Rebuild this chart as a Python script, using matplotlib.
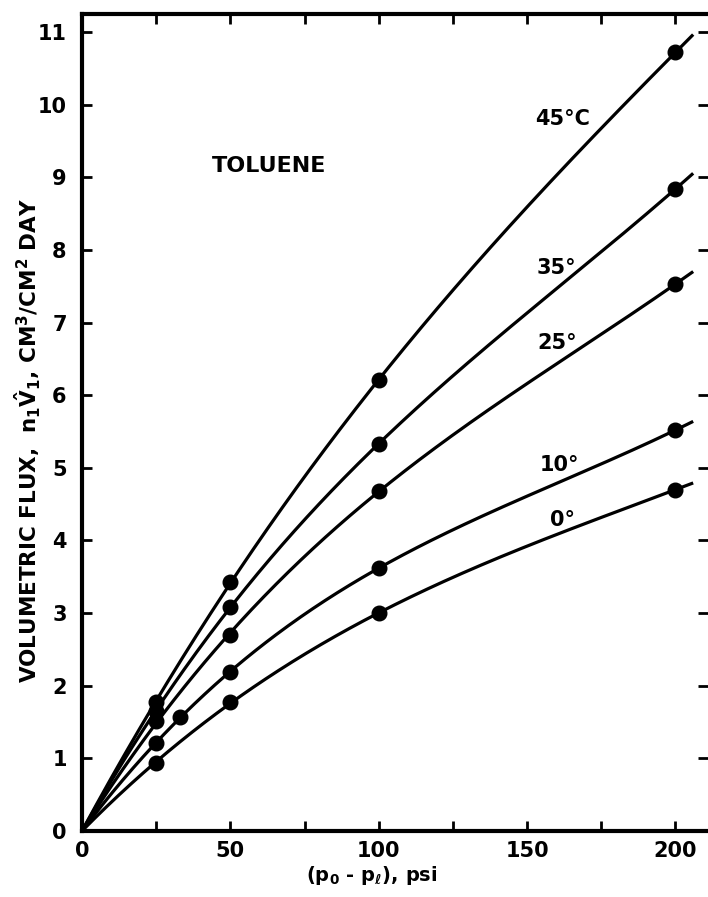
import numpy as np
import matplotlib.pyplot as plt
from matplotlib.ticker import MultipleLocator

plt.rcParams["mathtext.default"] = "bf"

# pressure drop (psi) and volumetric flux (cm3/cm2 day)
pressure = [25, 50, 100, 200]
pressure_10 = [25, 33, 50, 100, 200]
flux_45 = [1.77, 3.43, 6.21, 10.72]
flux_35 = [1.65, 3.09, 5.33, 8.84]
flux_25 = [1.52, 2.70, 4.68, 7.53]
flux_10 = [1.21, 1.57, 2.19, 3.62, 5.52]
flux_0 = [0.94, 1.77, 3.00, 4.70]

curve_labels = ["45°C", "35°", "25°", "10°", "0°"]
label_x = [162, 160, 160, 161, 162]
label_y = [9.8, 7.75, 6.72, 5.04, 4.28]


def smooth_curve(xs, ys, x_end=206):
    # least squares cubic through the origin
    xs = np.asarray(xs, float)
    ys = np.asarray(ys, float)
    basis = np.column_stack([xs, xs**2, xs**3])
    coef, *_ = np.linalg.lstsq(basis, ys, rcond=None)
    xx = np.linspace(0, x_end, 300)
    return xx, coef[0] * xx + coef[1] * xx**2 + coef[2] * xx**3


fig = plt.figure(figsize=(7.08, 8.97), dpi=100)
ax = fig.add_axes([0.1158, 0.0736, 0.8842, 0.9108])

series = [
    (pressure, flux_45),
    (pressure, flux_35),
    (pressure, flux_25),
    (pressure_10, flux_10),
    (pressure, flux_0),
]
for xs, ys in series:
    xx, yy = smooth_curve(xs, ys)
    ax.plot(xx, yy, color="black", linewidth=2.3, solid_capstyle="butt")
    ax.plot(xs, ys, "o", color="black", markersize=10.5)

for text, tx, ty in zip(curve_labels, label_x, label_y):
    ax.text(tx, ty, text, ha="center", va="center", fontsize=15, fontweight="bold")

ax.text(63, 9.16, "TOLUENE", ha="center", va="center", fontsize=16, fontweight="bold")

ax.set_xlim(0, 211)
ax.set_ylim(0, 11.25)
ax.xaxis.set_major_locator(MultipleLocator(50))
ax.xaxis.set_minor_locator(MultipleLocator(25))
ax.yaxis.set_major_locator(MultipleLocator(1))

ax.spines["right"].set_visible(False)
for side in ("left", "bottom", "top"):
    ax.spines[side].set_linewidth(3)

ax.tick_params(which="both", direction="in", top=True, right=True, length=7, width=2)
ax.tick_params(axis="x", which="major", labelsize=15, pad=7)
ax.tick_params(axis="y", which="major", labelsize=15, pad=11)
for lab in ax.get_xticklabels() + ax.get_yticklabels():
    lab.set_fontweight("bold")

ax.set_xlabel(r"(p$_0$ - p$_\ell$), psi", fontsize=14, fontweight="bold")
ax.xaxis.set_label_coords(0.463, -0.041)
ax.set_ylabel(r"VOLUMETRIC FLUX,  n$_1\hat{V}_1$, CM$^3$/CM$^2$ DAY",
              fontsize=15.5, fontweight="bold")
ax.yaxis.set_label_coords(-0.062, 0.478)

fig.savefig("out.png", dpi=100)
